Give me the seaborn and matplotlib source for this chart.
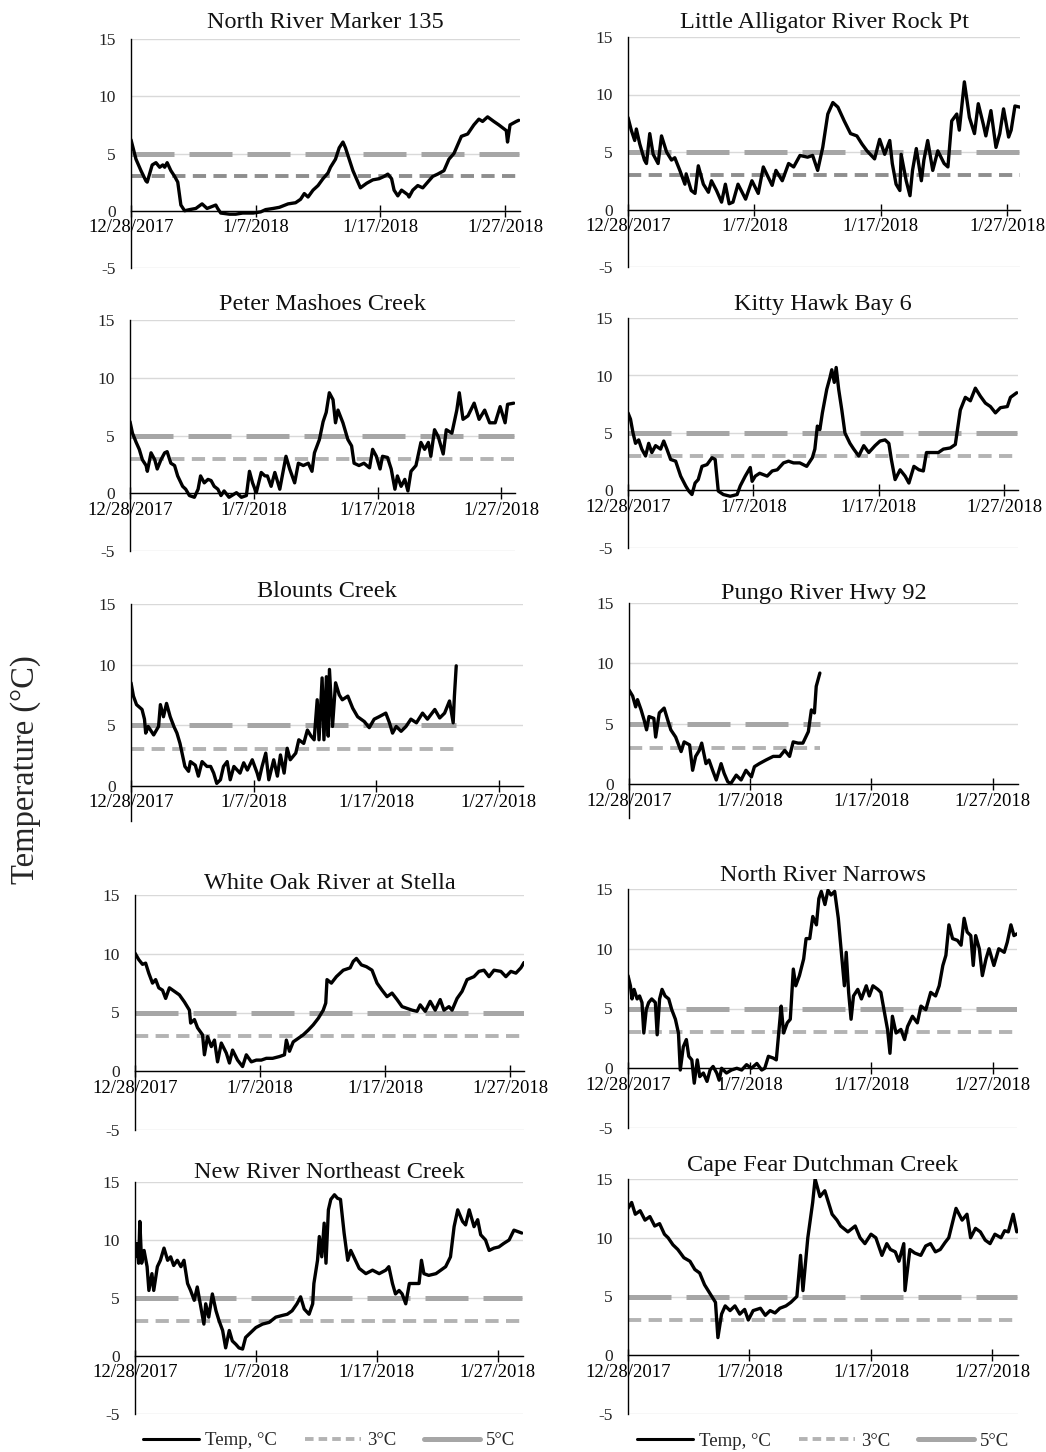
import numpy as np
import pandas as pd
import matplotlib
matplotlib.use("Agg")
import matplotlib.pyplot as plt
from matplotlib.lines import Line2D
import seaborn as sns

# ---------------- data (days since 12/28/2017, water temperature °C) ----------------
nr135_day = [0, 0.4, 0.8, 1.2, 1.3, 1.7, 2.0, 2.3, 2.55, 2.7, 2.9, 3.2, 3.5, 3.75, 4.0, 4.3, 4.7, 5.2, 5.7, 6.1,
             6.8, 6.95, 7.2, 7.9, 8.4, 8.95, 9.8, 10.4, 10.8, 11.4, 11.9, 12.6, 13.2, 13.6, 13.9, 14.2, 14.6, 15.0,
             15.4, 15.8, 16.0, 16.4, 16.7, 17.0, 17.2, 17.5, 17.8, 18.2, 18.4, 18.9, 19.4, 19.9, 20.3, 20.6, 20.9,
             21.1, 21.4, 21.7, 22.2, 22.3, 22.6, 23.0, 23.4, 23.8, 24.2, 24.6, 25.1, 25.5, 25.9, 26.5, 27.0, 27.5,
             27.9, 28.2, 28.6, 29.1, 29.5, 30.1, 30.2, 30.4, 30.9, 31.1]
nr135_temp = [6.2, 4.5, 3.5, 2.6, 2.5, 4.0, 4.2, 3.8, 4.0, 3.8, 4.2, 3.5, 3.0, 2.5, 0.5, 0.0, 0.1, 0.2, 0.6, 0.2,
              0.5, 0.2, -0.2, -0.3, -0.3, -0.2, -0.2, -0.1, 0.1, 0.2, 0.3, 0.6, 0.7, 1.0, 1.5, 1.2, 1.8, 2.2,
              2.8, 3.3, 3.8, 4.5, 5.5, 6.0, 5.5, 4.5, 3.5, 2.5, 2.0, 2.4, 2.7, 2.8, 3.0, 3.2, 2.8,
              1.8, 1.3, 1.8, 1.4, 1.2, 1.8, 2.2, 2.0, 2.5, 3.0, 3.2, 3.5, 4.5, 5.0, 6.5, 6.7, 7.5,
              8.0, 7.8, 8.2, 7.8, 7.5, 7.0, 6.0, 7.5, 7.8, 7.9]

lar_day = [0, 0.26, 0.53, 0.66, 0.93, 1.3, 1.46, 1.72, 1.99, 2.38, 2.65, 3.05, 3.44, 3.7, 4.1, 4.5, 4.6, 5.0, 5.3,
           5.56, 5.96, 6.36, 6.6, 7.0, 7.4, 7.7, 8.0, 8.3, 8.7, 9.3, 9.8, 10.3, 10.7, 11.4, 11.7, 12.2, 12.7, 13.1,
           13.6, 14.2, 14.6, 15.0, 15.4, 15.8, 16.2, 16.6, 17.1, 17.6, 18.1, 18.5, 18.9, 19.5, 19.9, 20.3, 20.7,
           20.9, 21.2, 21.5, 21.6, 22.0, 22.3, 22.5, 22.8, 23.2, 23.4, 23.7, 24.1, 24.5, 25.0, 25.3, 25.6, 26.0,
           26.2, 26.6, 27.0, 27.4, 27.7, 28.1, 28.3, 28.7, 29.1, 29.4, 29.7, 30.1, 30.3, 30.6, 31.0]
lar_temp = [8.0, 6.9, 6.0, 7.0, 5.7, 4.3, 4.0, 6.6, 4.8, 4.0, 6.4, 5.0, 4.3, 4.5, 3.4, 2.2, 3.1, 1.65, 1.4,
            3.8, 2.2, 1.5, 2.5, 1.65, 0.64, 2.2, 0.5, 0.64, 2.2, 0.9, 2.5, 1.4, 3.7, 2.1, 3.4, 2.5, 4.0, 3.7,
            4.7, 4.55, 4.7, 3.4, 5.4, 8.3, 9.3, 8.9, 7.7, 6.6, 6.4, 5.7, 5.1, 4.4, 6.1, 4.8, 6.0,
            4.0, 2.2, 1.65, 4.8, 2.5, 1.2, 3.4, 5.3, 2.5, 4.3, 6.0, 3.4, 5.1, 4.0, 3.7, 7.7, 8.3,
            6.9, 11.1, 8.0, 6.6, 9.2, 7.4, 6.4, 8.6, 5.4, 6.6, 8.75, 6.3, 6.9, 9.0, 8.9]

pmc_day = [0, 0.2, 0.5, 0.75, 1.0, 1.3, 1.4, 1.7, 2.0, 2.2, 2.5, 2.8, 3.0, 3.3, 3.6, 3.85, 4.25, 4.5, 4.8, 5.2,
           5.5, 5.7, 6.0, 6.3, 6.55, 6.8, 7.1, 7.35, 7.6, 8.0, 8.6, 9.0, 9.4, 9.65, 9.9, 10.2, 10.6, 10.9, 11.1,
           11.4, 11.7, 12.1, 12.3, 12.6, 12.9, 13.3, 13.6, 14.0, 14.4, 14.7, 14.9, 15.3, 15.6, 15.85, 16.1, 16.4,
           16.6, 16.8, 17.2, 17.6, 17.9, 18.1, 18.5, 18.9, 19.35, 19.6, 19.9, 20.2, 20.4, 20.8, 21.1, 21.4, 21.6,
           21.9, 22.2, 22.45, 22.7, 23.1, 23.5, 23.8, 24.1, 24.3, 24.6, 24.9, 25.3, 25.55, 26.0, 26.4, 26.6, 26.9,
           27.3, 27.8, 28.2, 28.65, 29.05, 29.5, 29.9, 30.3, 30.5, 31.0]
pmc_temp = [6.2, 5.2, 4.4, 3.8, 2.9, 2.4, 1.9, 3.5, 2.9, 2.1, 2.9, 3.5, 3.6, 2.6, 2.4, 1.5, 0.6, 0.35, -0.2, -0.35,
            0.35, 1.5, 0.9, 1.2, 1.1, 0.6, 0.35, -0.2, 0.2, -0.35, 0.05, -0.35, -0.2, 1.9, 0.9, 0.05, 1.8, 1.5, 1.5,
            0.6, 1.8, 0.35, 1.5, 3.2, 2.1, 0.9, 2.6, 2.4, 2.6, 1.9, 3.5, 4.65, 6.2, 7.0, 8.7, 8.1,
            6.1, 7.2, 6.1, 4.65, 4.1, 2.6, 2.4, 2.6, 2.2, 3.8, 3.2, 2.1, 3.2, 3.1, 2.1, 0.35, 1.5,
            0.6, 1.2, 0.2, 1.9, 2.4, 4.4, 3.8, 4.4, 3.2, 5.5, 4.9, 3.4, 5.5, 5.2, 7.2, 8.7, 6.4,
            6.7, 7.8, 6.4, 7.2, 6.1, 6.1, 7.5, 6.1, 7.7, 7.8]

khb_day = [0, 0.2, 0.4, 0.6, 0.85, 1.1, 1.4, 1.65, 1.9, 2.2, 2.6, 2.85, 3.1, 3.4, 3.8, 4.2, 4.6, 4.85, 5.1, 5.35,
           5.6, 5.9, 6.3, 6.7, 6.95, 7.2, 7.6, 8.15, 8.7, 8.95, 9.35, 9.75, 9.9, 10.15, 10.5, 11.1, 11.5, 11.9,
           12.4, 12.8, 13.2, 13.7, 14.25, 14.7, 14.9, 15.1, 15.3, 15.5, 15.85, 16.1, 16.25, 16.45, 16.6, 16.8,
           17.05, 17.3, 17.7, 18.0, 18.4, 18.8, 19.2, 19.7, 20.1, 20.5, 20.8, 21.0, 21.3, 21.7, 22.1, 22.4, 22.8,
           23.2, 23.55, 23.8, 24.2, 24.75, 25.15, 25.7, 26.1, 26.5, 26.9, 27.3, 27.7, 28.1, 28.5, 28.9, 29.3,
           29.7, 30.25, 30.5, 31.0]
khb_temp = [6.75, 6.2, 5.0, 4.1, 4.4, 3.6, 3.0, 4.1, 3.3, 3.9, 3.6, 4.3, 3.6, 2.7, 2.55, 1.25, 0.4, -0.05, -0.35, 0.65,
            0.95, 2.1, 2.25, 2.85, 2.7, -0.05, -0.35, -0.5, -0.35, 0.4, 1.25, 2.0, 0.8, 1.25, 1.5, 1.25, 1.7, 1.8,
            2.4, 2.55, 2.4, 2.4, 2.1, 2.85, 3.6, 5.6, 5.3, 6.75, 8.8, 9.8, 10.5, 9.4, 10.7, 8.8,
            7.0, 5.0, 4.1, 3.6, 3.0, 3.9, 3.3, 3.9, 4.3, 4.4, 4.1, 2.7, 0.95, 1.8, 1.25, 0.65, 2.1,
            1.8, 1.7, 3.3, 3.3, 3.3, 3.6, 3.7, 4.0, 7.0, 8.1, 7.8, 8.9, 8.2, 7.6, 7.3, 6.75,
            7.2, 7.3, 8.1, 8.5]

blc_day = [0, 0.2, 0.45, 0.9, 1.1, 1.2, 1.4, 1.85, 2.25, 2.4, 2.65, 2.9, 3.2, 3.5, 3.75, 4.0, 4.4, 4.7, 4.85, 5.25,
           5.5, 5.8, 6.2, 6.5, 6.75, 7.0, 7.3, 7.55, 7.85, 8.1, 8.4, 8.9, 9.2, 9.5, 9.9, 10.3, 10.45, 10.7, 11.0,
           11.25, 11.65, 11.95, 12.2, 12.5, 12.75, 13.0, 13.45, 13.7, 14.1, 14.4, 14.7, 14.95, 15.2, 15.35, 15.6,
           15.75, 15.95, 16.1, 16.2, 16.45, 16.7, 17.0, 17.25, 17.7, 18.1, 18.5, 19.05, 19.45, 19.85, 20.25, 20.8,
           21.1, 21.35, 21.65, 22.05, 22.45, 22.85, 23.3, 23.8, 24.2, 24.8, 25.2, 25.6, 26.0, 26.3, 26.4, 26.55]
blc_temp = [8.5, 7.4, 6.7, 6.3, 5.5, 4.35, 4.9, 4.2, 4.9, 6.7, 5.7, 6.8, 5.7, 4.9, 4.35, 3.5, 1.6, 1.2, 2.0, 1.7,
            0.8, 2.0, 1.6, 1.6, 1.05, 0.2, 0.5, 1.6, 2.0, 0.5, 1.6, 1.05, 1.9, 1.3, 2.15, 1.05, 0.5, 1.6, 2.7,
            0.5, 2.15, 0.8, 2.55, 1.05, 3.1, 2.15, 2.7, 3.8, 3.5, 4.6, 4.1, 3.8, 7.1, 3.8, 8.9,
            3.8, 9.0, 4.1, 9.6, 4.9, 8.5, 7.5, 7.1, 7.4, 6.4, 5.7, 5.3, 4.8, 5.5, 5.7, 6.0,
            5.2, 4.35, 4.9, 4.5, 4.9, 5.5, 5.2, 6.0, 5.5, 6.3, 5.6, 6.0, 7.0, 5.2, 7.4, 9.9]

pgr_day = [0, 0.3, 0.55, 0.7, 1.0, 1.25, 1.45, 1.65, 2.05, 2.2, 2.5, 2.9, 3.2, 3.45, 3.85, 4.3, 4.55, 5.0, 5.25,
           5.5, 5.8, 6.0, 6.35, 6.6, 6.9, 7.2, 7.6, 7.85, 8.15, 8.4, 8.85, 9.25, 9.65, 10.1, 10.35, 10.75, 11.3,
           11.9, 12.45, 12.85, 13.25, 13.55, 13.95, 14.35, 14.8, 15.05, 15.3, 15.45, 15.75]
pgr_temp = [7.8, 7.3, 6.4, 7.0, 6.15, 5.3, 4.5, 5.6, 5.45, 3.9, 5.9, 6.3, 5.3, 4.5, 3.9, 2.7, 3.5, 3.25, 1.15,
            2.3, 2.8, 3.4, 1.7, 2.0, 1.15, 0.35, 1.7, 0.9, 0.2, 0.05, 0.75, 0.35, 1.15, 0.6, 1.45, 1.7, 2.0,
            2.3, 2.3, 2.8, 2.3, 3.5, 3.4, 3.4, 4.35, 6.15, 5.9, 8.1, 9.2]

wos_day = [0, 0.3, 0.6, 0.85, 1.1, 1.4, 1.65, 1.9, 2.2, 2.45, 2.75, 3.15, 3.55, 3.95, 4.35, 4.45, 4.75, 5.0, 5.4,
           5.55, 5.8, 6.1, 6.35, 6.6, 6.9, 7.3, 7.55, 7.8, 8.2, 8.6, 8.9, 9.3, 9.7, 10.1, 10.5, 11.0, 11.55, 11.95,
           12.1, 12.35, 12.65, 13.05, 13.45, 13.85, 14.25, 14.65, 15.05, 15.25, 15.35, 15.7, 16.1, 16.65, 17.2,
           17.45, 17.7, 18.1, 18.5, 18.95, 19.35, 19.75, 20.15, 20.55, 20.95, 21.35, 21.75, 22.15, 22.55, 22.8,
           23.2, 23.6, 24.0, 24.4, 24.7, 25.1, 25.35, 25.75, 26.15, 26.55, 27.1, 27.5, 27.9, 28.3, 28.7, 29.25,
           29.65, 30.05, 30.45, 30.85, 31.1]
wos_temp = [10.05, 9.5, 9.1, 9.2, 8.35, 7.5, 7.8, 7.1, 6.9, 6.2, 7.1, 6.8, 6.5, 5.9, 5.2, 4.1, 4.4, 3.7, 3.1,
            1.4, 2.95, 2.1, 2.65, 0.8, 2.4, 1.55, 0.7, 1.8, 0.95, 0.4, 1.4, 0.8, 0.95, 0.95, 1.1, 1.1, 1.25, 1.4,
            2.65, 1.7, 2.5, 2.8, 3.1, 3.5, 3.95, 4.5, 5.2, 5.8, 7.8, 7.5, 8.05, 8.6, 8.8,
            9.35, 9.6, 9.05, 8.9, 8.6, 7.5, 6.9, 6.35, 6.65, 6.1, 5.5, 5.35, 5.2, 5.1, 5.65,
            5.1, 5.95, 5.2, 6.1, 5.2, 5.5, 5.2, 6.2, 6.8, 7.8, 8.05, 8.5, 8.6, 8.05, 8.6, 8.5,
            8.05, 8.5, 8.35, 8.8, 9.25]

nrn_day = [0, 0.2, 0.33, 0.5, 0.75, 0.95, 1.15, 1.3, 1.5, 1.7, 1.95, 2.25, 2.4, 2.6, 2.8, 3.05, 3.35, 3.6, 3.9,
           4.15, 4.3, 4.55, 4.8, 5.0, 5.25, 5.45, 5.7, 5.9, 6.2, 6.5, 6.75, 7.0, 7.3, 7.5, 7.7, 8.1, 8.5, 8.95,
           9.35, 9.75, 10.15, 10.6, 11.0, 11.25, 11.55, 11.95, 12.2, 12.5, 12.6, 12.8, 13.1, 13.35, 13.6, 13.8,
           14.1, 14.45, 14.65, 14.95, 15.2, 15.5, 15.7, 15.9, 16.2, 16.45, 16.7, 17.0, 17.3, 17.55, 17.8, 17.95,
           18.15, 18.35, 18.55, 18.9, 19.2, 19.6, 19.85, 20.15, 20.55, 20.8, 21.1, 21.35, 21.55, 21.75, 22.05,
           22.45, 22.75, 23.0, 23.4, 23.8, 24.1, 24.5, 24.9, 25.3, 25.6, 25.9, 26.15, 26.4, 26.7, 27.1, 27.4,
           27.65, 27.9, 28.2, 28.4, 28.6, 28.9, 29.15, 29.45, 29.7, 30.1, 30.5, 30.95, 31.2, 31.5, 31.75, 32.0]
nrn_temp = [7.75, 6.9, 5.8, 6.6, 5.8, 6.05, 5.5, 2.95, 4.9, 5.5, 5.8, 5.5, 2.8, 5.8, 6.6, 6.05, 5.8, 4.9, 4.1,
            2.95, -0.15, 1.8, 2.4, 1.0, 0.7, -1.25, 0.7, -0.7, -0.4, -1.1, -0.15, 0.15, -0.4, -1.0, 0.0, -0.4, -0.15, 0.0,
            -0.15, 0.3, 0.0, 0.4, -0.15, 0.0, 1.0, 0.85, 0.7, 4.1, 5.2, 2.95, 3.8, 4.1, 8.3, 6.9,
            7.75, 9.15, 10.85, 10.85, 12.7, 12.0, 14.2, 14.8, 13.7, 14.9, 14.5, 14.8, 12.55, 9.7, 6.9, 9.7,
            6.35, 4.1, 6.05, 6.6, 5.8, 6.9, 6.05, 6.9, 6.6, 6.35, 4.65, 3.25, 1.25, 4.35, 2.95,
            3.25, 2.4, 3.5, 4.35, 3.8, 5.2, 4.9, 6.35, 6.05, 6.9, 8.6, 9.45, 12.0, 10.85, 10.7, 10.3,
            12.55, 11.4, 11.1, 8.6, 11.1, 10.0, 7.75, 9.15, 10.0, 8.6, 10.0, 9.7, 10.55, 12.0, 11.1, 11.25]

nrc_day = [0, 0.15, 0.3, 0.4, 0.55, 0.75, 1.0, 1.15, 1.4, 1.55, 1.85, 2.1, 2.4, 2.7, 2.95, 3.2, 3.5, 3.8, 4.05,
           4.35, 4.6, 4.9, 5.15, 5.45, 5.7, 5.85, 6.1, 6.4, 6.7, 6.95, 7.25, 7.5, 7.8, 8.05, 8.35, 8.6, 8.9, 9.15,
           9.55, 10.0, 10.55, 11.1, 11.65, 12.2, 12.6, 13.0, 13.4, 13.7, 14.0, 14.4, 14.7, 14.8, 15.1, 15.25,
           15.45, 15.65, 15.8, 16.0, 16.2, 16.5, 16.75, 17.0, 17.3, 17.6, 17.85, 18.1, 18.55, 19.1, 19.65, 20.2,
           20.75, 21.0, 21.3, 21.55, 21.85, 22.1, 22.4, 22.7, 23.1, 23.5, 23.7, 23.9, 24.3, 24.9, 25.3, 25.7,
           26.1, 26.4, 26.7, 27.1, 27.35, 27.65, 28.05, 28.35, 28.6, 29.0, 29.3, 29.7, 30.1, 30.5, 30.95, 31.35,
           32.0]
nrc_temp = [8.55, 9.7, 8.0, 11.6, 8.0, 9.1, 7.7, 5.65, 7.1, 5.65, 7.7, 8.25, 9.3, 8.25, 8.55, 7.8, 8.25, 7.7, 8.25,
            6.25, 5.65, 4.8, 5.95, 4.2, 2.75, 4.5, 3.35, 5.35, 3.9, 3.05, 2.2, 0.7, 2.2, 1.3, 1.0, 0.7, 0.6, 1.6,
            2.0, 2.45, 2.75, 2.9, 3.35, 3.5, 3.6, 3.9, 4.5, 5.1, 4.05, 3.6, 4.5, 6.25, 8.25, 10.3,
            8.55, 11.45, 8.0, 12.6, 13.5, 13.9, 13.6, 13.5, 10.6, 8.25, 9.1, 8.55, 7.55, 7.1, 7.4, 7.1,
            7.4, 7.7, 6.25, 5.35, 5.65, 5.35, 4.5, 6.25, 6.25, 6.25, 8.25, 7.1, 6.95, 7.1, 7.4, 7.7,
            8.55, 11.15, 12.6, 11.6, 11.3, 12.6, 11.15, 11.75, 10.45, 10.0, 9.1, 9.3, 9.4, 9.7, 10.0, 10.85,
            10.6]

cfd_day = [0, 0.3, 0.6, 1.0, 1.4, 1.8, 2.2, 2.6, 3.0, 3.3, 3.7, 4.1, 4.6, 5.1, 5.5, 5.9, 6.3, 6.6, 6.9, 7.2, 7.4,
           7.7, 8.0, 8.4, 8.8, 9.2, 9.6, 9.9, 10.3, 10.9, 11.3, 11.7, 12.1, 12.5, 13.0, 13.4, 13.9, 14.2, 14.4,
           14.8, 15.2, 15.4, 15.8, 16.2, 16.8, 17.2, 17.5, 18.1, 18.7, 19.1, 19.5, 20.0, 20.4, 20.9, 21.3, 21.6,
           22.0, 22.3, 22.7, 22.8, 23.2, 23.6, 24.1, 24.5, 24.9, 25.3, 25.7, 26.1, 26.4, 27.0, 27.5, 27.9, 28.2,
           28.6, 29.0, 29.4, 29.8, 30.2, 30.7, 31.0, 31.3, 31.7, 32.0]
cfd_temp = [12.5, 13.0, 12.0, 12.3, 11.5, 11.8, 11.0, 11.2, 10.3, 10.0, 9.4, 9.0, 8.3, 8.0, 7.3, 7.0, 6.0, 5.5, 5.0, 4.5, 1.5,
            3.5, 4.2, 3.8, 4.2, 3.5, 3.9, 3.0, 3.8, 4.0, 3.4, 3.8, 3.6, 4.0, 4.2, 4.5, 5.0, 8.5, 5.5,
            10.0, 13.0, 15.0, 13.5, 14.0, 12.0, 11.5, 11.0, 10.5, 11.0, 10.0, 9.5, 10.3, 10.0, 8.5, 9.5, 9.0,
            8.8, 8.0, 9.5, 5.5, 9.0, 8.7, 8.5, 9.3, 9.5, 8.8, 9.0, 9.6, 10.0, 12.5, 11.5, 12.0, 10.0,
            10.8, 10.5, 9.8, 9.5, 10.3, 10.0, 10.6, 10.5, 12.0, 10.5]

titles = ["North River Marker 135", "Little Alligator River Rock Pt",
          "Peter Mashoes Creek", "Kitty Hawk Bay 6",
          "Blounts Creek", "Pungo River Hwy 92",
          "White Oak River at Stella", "North River Narrows",
          "New River Northeast Creek", "Cape Fear Dutchman Creek"]
site_days = [nr135_day, lar_day, pmc_day, khb_day, blc_day, pgr_day, wos_day, nrn_day, nrc_day, cfd_day]
site_temps = [nr135_temp, lar_temp, pmc_temp, khb_temp, blc_temp, pgr_temp, wos_temp, nrn_temp, nrc_temp, cfd_temp]

threshold_low = 3
threshold_high = 5
date_ticks = [0, 10, 20, 30]
date_labels = ["12/28/2017", "1/7/2018", "1/17/2018", "1/27/2018"]
legend_labels = ["Temp, °C", "3°C", "5°C"]

# ---------------- layout (pixel boxes: left, right, top, bottom) ----------------
W, H = 1046, 1452
boxes = [(131, 520, 39, 268), (628, 1020, 37, 267),
         (130, 515, 320, 551), (628, 1018, 318, 548),
         (131, 523, 604, 821), (629, 1018, 603, 818),
         (135, 524, 895, 1130), (628, 1017, 889, 1128),
         (135, 523, 1182, 1414), (628, 1018, 1179, 1414)]
ylims = [(-5, 15)] * 4 + [(-2.9, 15), (-2.8, 15)] + [(-5, 15)] * 4
xmaxs = [31.2, 31.0, 31.1, 31.1, 32.0, 32.1, 31.1, 32.0, 32.1, 32.1]
title_pads = [8.0, 6.6, 7.3, 5.9, 5.2, 3.0, 4.4, 5.9, 3.0, 5.9]

sns.set_theme(style="white")
plt.rcParams["font.family"] = ["Liberation Serif", "DejaVu Serif"]
plt.rcParams["axes.unicode_minus"] = False

fig = plt.figure(figsize=(W / 100, H / 100), dpi=100)

c5 = "#a6a6a6"
for i in range(10):
    L, R, T, B = boxes[i]
    ax = fig.add_axes([L / W, 1 - B / H, (R - L) / W, (B - T) / H])
    days = site_days[i]
    temps = site_temps[i]
    df = pd.DataFrame({"day": days, "temp": temps})
    x0, x1 = days[0], days[-1]
    c3 = "#8e8e8e" if i < 2 else "#b3b3b3"
    ax.plot([x0, x1], [threshold_low, threshold_low], color=c3, lw=2.8, dashes=(3.4, 1.9),
            dash_capstyle="butt", zorder=2, label=legend_labels[1])
    ax.plot([x0, x1], [threshold_high, threshold_high], color=c5, lw=3.6, dashes=(8.6, 3.0),
            dash_capstyle="butt", zorder=2, label=legend_labels[2])
    sns.lineplot(data=df, x="day", y="temp", color="black", lw=2.4, ax=ax, sort=False,
                 estimator=None, zorder=3, label=legend_labels[0])

    ax.set_xlim(0, xmaxs[i])
    ax.set_ylim(*ylims[i])
    if ylims[i][0] <= -5:
        ax.set_yticks([-5, 0, 5, 10, 15])
    else:
        ax.set_yticks([0, 5, 10, 15])
    ax.set_xticks(date_ticks)
    ax.set_xticklabels(date_labels)
    ax.yaxis.grid(True, color="#d9d9d9", lw=1)
    ax.xaxis.grid(False)
    ax.set_axisbelow(True)
    for s in ["top", "right"]:
        ax.spines[s].set_visible(False)
    ax.spines["bottom"].set_position(("data", 0))
    ax.spines["bottom"].set_color("black")
    ax.spines["bottom"].set_linewidth(1.0)
    ax.spines["left"].set_color("black")
    ax.spines["left"].set_linewidth(1.0)
    ax.tick_params(axis="x", bottom=True, direction="inout", length=8, width=1, color="black",
                   pad=2, labelsize=13.5, labelcolor="black")
    ax.tick_params(axis="y", left=False, length=0, pad=11, labelsize=12.5, labelcolor="#222222")
    ax.set_xlabel("")
    ax.set_ylabel("")
    ax.set_title(titles[i], fontsize=17.5, pad=title_pads[i], color="#111111")
    if ax.get_legend() is not None:
        ax.get_legend().remove()
    if i >= 8:
        handles = [Line2D([], [], color="black", lw=2.2),
                   Line2D([], [], color="#b3b3b3", lw=2.8, dashes=(2.2, 1.3)),
                   Line2D([], [], color=c5, lw=3.6)]
        ax.legend(handles, legend_labels, loc="center", bbox_to_anchor=(0.5, -0.115), ncol=3,
                  frameon=False, fontsize=13.5, handlelength=3.0, columnspacing=1.5, handletextpad=0.3)

fig.text(0.024, 0.47, "Temperature (°C)", rotation=90, fontsize=23.5, ha="center", va="center")

fig.savefig("out.png", dpi=100)
